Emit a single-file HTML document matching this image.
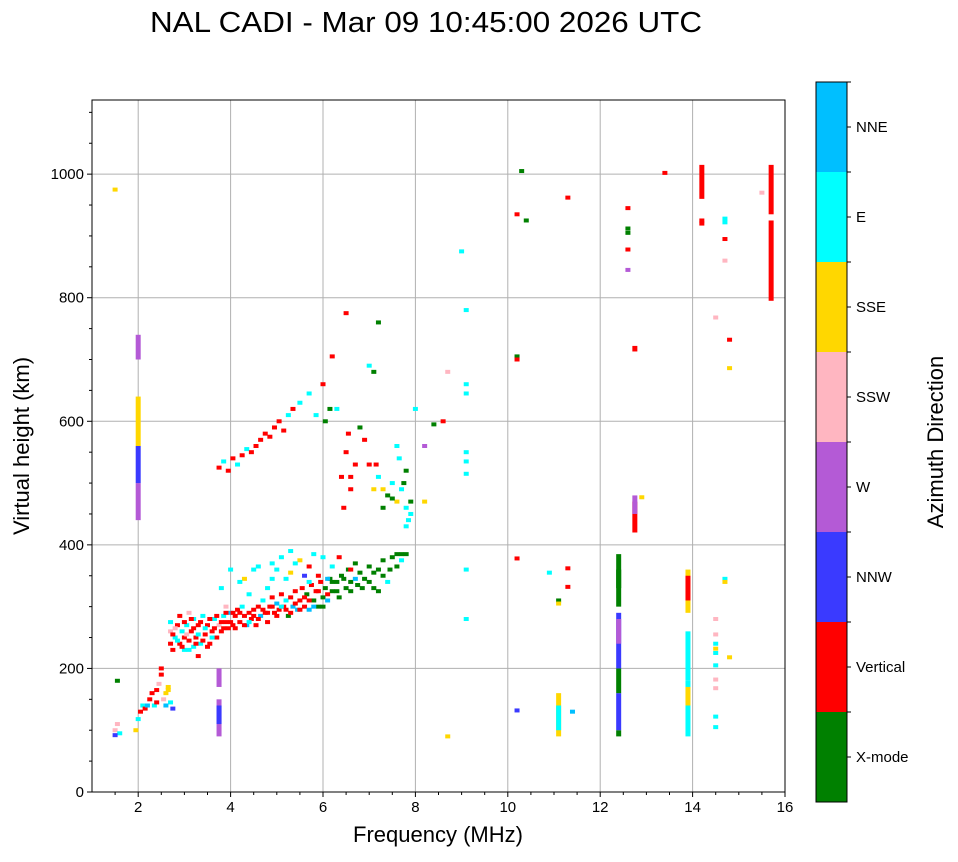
<!DOCTYPE html>
<html><head><meta charset="utf-8"><style>
body{margin:0;background:#fff;font-family:"Liberation Sans",sans-serif}
svg text{font-family:"Liberation Sans",sans-serif}
</style></head><body>
<svg id="chart" width="958" height="857" viewBox="0 0 958 857">
<text x="426" y="32" font-size="29" textLength="552" lengthAdjust="spacingAndGlyphs" text-anchor="middle">NAL CADI - Mar 09 10:45:00 2026 UTC</text>
<g id="grid"></g>
<g id="marks"></g>
<g id="axes"></g>
<g id="cbar"></g>
<text x="438" y="842" font-size="22" text-anchor="middle">Frequency (MHz)</text>
<text transform="translate(29,446) rotate(-90)" font-size="22" text-anchor="middle">Virtual height (km)</text>
<text transform="translate(943,442) rotate(-90)" font-size="22" text-anchor="middle">Azimuth Direction</text>
</svg>
<script>
const xTicks=[2,4,6,8,10,12,14,16];
const yTicks=[0,200,400,600,800,1000];
const categories=["X-mode","Vertical","NNW","W","SSW","SSE","E","NNE"];
const catColors=["#008000","#ff0000","#3a3aff","#b45ad6","#ffb6c1","#ffd700","#00ffff","#00bfff"];
// cells: freq,height,colorIndex
const cells="1.5,975,5;1.55,180,0;1.5,100,4;1.55,110,4;1.6,95,6;1.5,92,2;1.95,100,5;2.0,118,6;2.05,130,1;2.1,140,6;2.15,135,1;2.2,140,7;2.25,150,1;2.3,160,1;2.35,140,6;2.4,145,1;2.4,165,1;2.45,175,4;2.5,190,1;2.5,200,1;2.55,150,4;2.6,160,5;2.65,170,5;2.7,145,6;2.75,135,2;2.6,140,7;2.65,165,5;2.7,240,1;2.7,260,4;2.7,275,6;2.75,230,1;2.8,250,6;2.85,270,1;2.9,240,1;2.9,285,1;2.95,260,6;3.0,230,6;3.0,250,1;3.05,270,6;3.1,290,4;3.1,245,1;3.15,260,1;3.2,280,6;3.2,235,6;3.25,250,1;3.3,270,1;3.3,220,1;3.35,240,6;3.4,285,6;3.45,255,1;3.5,270,1;3.55,240,1;3.6,260,1;3.65,280,6;3.7,250,1;3.75,270,4;3.8,260,1;3.85,285,6;3.9,275,1;3.95,265,1;4.0,290,7;4.05,270,1;4.1,285,1;4.15,295,1;4.2,275,1;4.25,300,6;4.3,285,1;4.35,270,7;4.4,290,1;4.45,280,1;4.5,295,1;4.55,270,1;4.6,300,1;4.65,285,7;4.7,310,6;4.75,290,1;4.8,275,1;4.85,300,1;4.9,315,1;4.95,290,1;5.0,305,7;5.05,295,1;5.1,320,1;5.15,300,1;5.2,310,6;5.25,285,0;5.3,315,1;5.35,300,7;5.4,325,1;5.45,295,7;5.5,310,1;5.55,330,1;5.6,300,1;5.65,320,0;5.7,295,7;5.75,335,1;5.8,310,0;5.85,325,1;5.9,300,0;5.95,340,1;6.0,315,0;6.05,330,0;6.1,310,7;6.15,345,0;6.2,325,0;6.3,340,0;6.35,315,0;6.4,350,0;6.5,330,0;6.55,360,0;6.6,340,0;6.7,370,0;6.75,335,0;6.8,355,0;6.9,345,0;7.0,365,0;7.1,330,0;7.2,360,0;7.3,375,0;7.4,340,6;7.5,380,0;7.6,365,0;7.7,385,0;7.8,385,0;7.7,375,6;3.8,330,6;4.0,360,6;4.3,345,5;4.6,365,6;4.9,370,6;5.1,380,6;5.3,390,6;5.5,375,5;5.7,365,1;5.9,350,1;6.1,345,7;6.35,380,1;6.6,360,1;4.4,320,6;4.8,330,6;5.2,345,6;5.6,350,2;3.75,525,1;3.85,535,6;3.95,520,1;4.05,540,1;4.15,530,6;4.25,545,1;4.35,555,6;4.45,550,1;4.55,560,1;4.65,570,1;4.75,580,1;4.85,575,1;4.95,590,1;5.05,600,1;5.15,585,1;5.25,610,6;5.35,620,1;5.5,630,6;5.7,645,6;5.85,610,6;6.0,660,1;6.05,600,0;6.15,620,0;6.3,620,6;6.5,775,1;6.2,705,1;6.4,510,1;6.5,550,1;6.6,490,1;6.7,530,1;6.8,590,0;6.9,570,1;7.0,530,1;7.1,490,5;7.2,510,6;7.3,460,0;7.4,480,0;7.5,500,6;7.6,470,5;7.7,490,6;7.8,520,0;7.9,450,6;7.8,430,6;7.9,470,0;7.6,560,6;7.2,760,0;7.0,690,6;7.1,680,0;7.8,460,6;8.0,620,6;8.2,560,3;8.4,595,0;8.6,600,1;8.7,680,4;8.2,470,5;8.7,90,5;9.0,875,6;9.1,780,6;9.1,660,6;9.1,645,6;9.1,550,6;9.1,535,6;9.1,515,6;9.1,360,6;9.1,280,6;10.2,935,1;10.3,1005,0;10.4,925,0;10.2,705,0;10.2,700,1;10.2,378,1;10.2,132,2;10.9,355,6;11.3,962,1;11.3,362,1;11.3,332,1;11.1,310,0;11.1,305,5;11.4,130,7;12.6,945,1;12.6,912,0;12.6,905,0;12.6,878,1;12.6,845,3;13.4,1002,1;14.7,928,6;14.7,922,6;14.7,895,1;14.7,860,4;14.5,768,4;14.8,732,1;14.8,686,5;14.2,925,1;14.2,920,1;14.7,345,6;14.7,340,5;14.5,280,4;14.5,255,4;14.5,240,6;14.5,232,5;14.5,225,6;14.5,205,6;14.5,182,4;14.5,168,4;14.5,122,6;14.5,105,6;14.8,218,5;15.5,970,4;12.9,477,5;2.75,255,1;2.8,265,4;2.85,245,6;2.95,235,1;3.0,275,1;3.05,255,4;3.1,230,6;3.15,280,1;3.2,265,1;3.25,240,1;3.3,255,6;3.35,275,1;3.4,245,1;3.45,265,6;3.5,235,1;3.55,280,1;3.6,250,6;3.65,265,1;3.7,285,1;3.8,275,1;3.85,265,1;3.9,290,1;4.0,275,1;4.05,290,1;4.1,265,1;4.2,290,1;4.3,270,1;4.4,275,6;4.5,285,1;4.6,280,1;4.7,295,1;4.8,290,1;4.9,300,1;5.0,285,1;5.1,300,6;5.2,295,1;5.3,290,1;5.4,305,1;5.5,295,1;5.6,315,1;5.7,310,1;5.8,300,7;5.9,325,1;6.0,300,0;6.1,320,1;6.2,340,0;6.3,325,0;6.45,345,0;6.6,325,0;6.7,345,7;6.85,330,0;7.0,340,0;7.1,355,0;7.3,350,0;7.45,360,0;7.6,385,0;7.2,325,0;4.5,360,6;4.9,345,6;5.3,355,5;5.7,340,6;4.2,340,6;3.9,300,4;5.0,360,6;5.4,370,6;5.8,385,6;6.0,380,6;6.2,365,6;7.65,540,6;7.75,500,0;7.85,440,6;7.5,475,0;7.3,490,5;7.15,530,1;6.55,580,1;6.45,460,1;6.6,510,1";
// bars: freq,h0,h1,colorIndex (vertical stacks)
const bars="2.0,440,500,3;2.0,500,560,2;2.0,560,640,5;2.0,700,740,3;3.75,90,150,3;3.75,110,140,2;3.75,170,200,3;11.1,90,160,5;11.1,100,140,6;12.4,90,100,0;12.4,100,160,2;12.4,160,200,0;12.4,200,290,2;12.4,240,280,3;12.4,300,385,0;12.4,330,360,0;12.75,420,470,1;12.75,450,480,3;12.75,713,722,1;13.9,90,180,6;13.9,140,170,5;13.9,180,260,6;13.9,290,360,5;13.9,310,350,1;14.2,960,1015,1;15.7,795,925,1;15.7,935,1015,1";
const X0=92,X1=785,Y0=792,Y1=100,fMin=1,fMax=16,hMin=0,hMax=1120;
const xs=f=>X0+(f-fMin)/(fMax-fMin)*(X1-X0);
const ys=h=>Y0-(h-hMin)/(hMax-hMin)*(Y0-Y1);
const NS="http://www.w3.org/2000/svg";
function mk(tag,at,parent){const e=document.createElementNS(NS,tag);for(const k in at)e.setAttribute(k,at[k]);parent.appendChild(e);return e;}
const grid=document.getElementById('grid'),marks=document.getElementById('marks'),axes=document.getElementById('axes'),cbar=document.getElementById('cbar');
xTicks.forEach(t=>{if(t<fMax){const l=mk('line',{x1:xs(t),x2:xs(t),y1:Y1,y2:Y0,stroke:'#b0b0b0','stroke-width':1},grid);}});
yTicks.forEach(t=>{if(t>0){const l=mk('line',{x1:X0,x2:X1,y1:ys(t),y2:ys(t),stroke:'#b0b0b0','stroke-width':1},grid);}});
cells.split(';').forEach(s=>{const [f,h,c]=s.split(',').map(Number);const r=mk('rect',{x:xs(f)-2.5,y:ys(h)-2,width:5,height:4,fill:catColors[c]},marks);});
bars.split(';').forEach(s=>{const [f,h0,h1,c]=s.split(',').map(Number);const r=mk('rect',{x:xs(f)-2.5,y:ys(h1),width:5,height:ys(h0)-ys(h1),fill:catColors[c]},marks);});
mk('rect',{x:X0,y:Y1,width:X1-X0,height:Y0-Y1,fill:'none',stroke:'#000','stroke-width':1},axes);
for(let f=1.5;f<=16;f+=0.5){const big=xTicks.includes(f);mk('line',{x1:xs(f),x2:xs(f),y1:Y0,y2:Y0+(big?5:3),stroke:'#000'},axes);}
xTicks.forEach(t=>{const tx=mk('text',{x:xs(t),y:Y0+20,'font-size':15,'text-anchor':'middle'},axes);tx.textContent=t;});
for(let h=0;h<=1100;h+=50){const big=yTicks.includes(h);mk('line',{x1:X0,x2:X0-(big?5:3),y1:ys(h),y2:ys(h),stroke:'#000'},axes);}
yTicks.forEach(t=>{const tx=mk('text',{x:X0-8,y:ys(t)+5,'font-size':15,'text-anchor':'end'},axes);tx.textContent=t;});
const CX=816,CW=31,CT=82,CB=802,seg=(CB-CT)/categories.length;
categories.forEach((c,i)=>{const y=CB-(i+1)*seg;const r=mk('rect',{x:CX,y:y,width:CW,height:seg,fill:catColors[i]},cbar);
mk('line',{x1:CX+CW,x2:CX+CW+4,y1:y+seg/2,y2:y+seg/2,stroke:'#000'},cbar);
const tx=mk('text',{x:CX+CW+9,y:y+seg/2+5,'font-size':15},cbar);tx.textContent=c;
mk('line',{x1:CX+CW,x2:CX+CW+4,y1:y,y2:y,stroke:'#000'},cbar);});
mk('rect',{x:CX,y:CT,width:CW,height:CB-CT,fill:'none',stroke:'#000'},cbar);
</script>
</body></html>
